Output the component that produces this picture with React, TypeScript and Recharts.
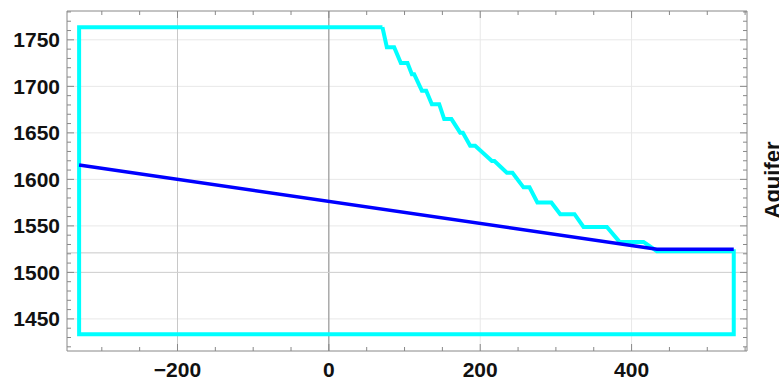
import { LineChart, Line, XAxis, YAxis, CartesianGrid, ReferenceLine } from "recharts";

// aquifer outline (x, elevation), drawn as a closed path
const aquiferX = [70.8, -330, -330, 535, 535, 433.5, 415.8, 384.1, 367.4, 336.5, 324.6, 305.7, 294, 275.5, 265.1, 257.2, 242.6, 235.2, 218.8, 215.4, 193.3, 186.7, 177.1, 173.5, 162, 152.4, 145.8, 136.1, 128.6, 122.9, 112.7, 109.7, 103.9, 95.1, 86.3, 76.6, 70.8];
const aquiferY = [1763.5, 1763.5, 1433.5, 1433.5, 1522.8, 1522.8, 1532.8, 1532.8, 1548.9, 1548.9, 1562.6, 1562.6, 1575.2, 1575.2, 1591.4, 1591.4, 1607.1, 1607.1, 1619.7, 1619.7, 1636.2, 1636.2, 1650.2, 1650.2, 1664.8, 1664.8, 1680.8, 1680.8, 1695.4, 1695.4, 1713, 1713, 1725, 1725, 1742, 1742, 1763.5];

// water table
const waterX = [-330, 433.5, 535];
const waterY = [1615.5, 1525, 1525];

const xLabels = [-200, 0, 200, 400];
const yLabels = [1450, 1500, 1550, 1600, 1650, 1700, 1750];
const xMinor = [-300, -250, -200, -150, -100, -50, 0, 50, 100, 150, 200, 250, 300, 350, 400, 450, 500, 550];
const yMinor: number[] = [];
for (let v = 1420; v <= 1780; v += 10) yMinor.push(v);

const xDomain = [-346, 552.5];
const yDomain = [1415.5, 1781];

const aquifer = aquiferX.map((x, i) => ({ x, y: aquiferY[i] }));
const water = waterX.map((x, i) => ({ x, y: waterY[i] }));

const FRAME = "#888";
const font = {
  fontFamily: "'Liberation Sans', Arial, sans-serif",
  fontWeight: 700,
  fontSize: 21,
  fill: "#111",
};

const fmt = (v: number) => (v < 0 ? "\u2212" + Math.abs(v) : String(v));

function BottomTick({ x, y, payload }: any) {
  const major = xLabels.includes(payload.value);
  return (
    <g>
      <line x1={x} x2={x} y1={y} y2={y - (major ? 7 : 4)} stroke={FRAME} />
      {major && (
        <text x={x} y={y + 26} textAnchor="middle" {...font}>
          {fmt(payload.value)}
        </text>
      )}
    </g>
  );
}

function TopTick({ x, y, payload }: any) {
  const major = xLabels.includes(payload.value);
  return <line x1={x} x2={x} y1={y} y2={y + (major ? 7 : 4)} stroke={FRAME} />;
}

function LeftTick({ x, y, payload }: any) {
  const major = payload.value % 50 === 0;
  return (
    <g>
      <line x1={x} x2={x + (major ? 7 : 4)} y1={y} y2={y} stroke={FRAME} />
      {major && (
        <text x={x - 7} y={y + 7.5} textAnchor="end" {...font}>
          {payload.value}
        </text>
      )}
    </g>
  );
}

function RightTick({ x, y, payload }: any) {
  const major = payload.value % 50 === 0;
  return <line x1={x} x2={x - (major ? 7 : 4)} y1={y} y2={y} stroke={FRAME} />;
}

export default function App() {
  return (
    <div style={{ position: "absolute", left: 0, top: 0, width: 779, height: 381 }}>
      <LineChart width={779} height={381} margin={{ top: 0, right: 0, bottom: 0, left: 0 }}>
        <CartesianGrid
          xAxisId="b"
          yAxisId="l"
          stroke="#e8e8e8"
          horizontalValues={yLabels}
          verticalValues={xLabels}
        />
        <XAxis
          xAxisId="b"
          orientation="bottom"
          type="number"
          dataKey="x"
          domain={xDomain}
          allowDataOverflow
          ticks={xMinor}
          interval={0}
          height={30}
          tickSize={0}
          tickMargin={0}
          tickLine={false}
          axisLine={{ stroke: FRAME }}
          tick={<BottomTick />}
        />
        <XAxis
          xAxisId="t"
          orientation="top"
          type="number"
          dataKey="x"
          domain={xDomain}
          allowDataOverflow
          ticks={xMinor}
          interval={0}
          height={11}
          tickSize={0}
          tickMargin={0}
          tickLine={false}
          axisLine={{ stroke: FRAME }}
          tick={<TopTick />}
        />
        <YAxis
          yAxisId="l"
          orientation="left"
          type="number"
          domain={yDomain}
          allowDataOverflow
          ticks={yMinor}
          interval={0}
          width={67}
          tickSize={0}
          tickMargin={0}
          tickLine={false}
          axisLine={{ stroke: FRAME }}
          tick={<LeftTick />}
        />
        <YAxis
          yAxisId="r"
          orientation="right"
          type="number"
          domain={yDomain}
          allowDataOverflow
          ticks={yMinor}
          interval={0}
          width={32}
          tickSize={0}
          tickMargin={0}
          tickLine={false}
          axisLine={{ stroke: FRAME }}
          tick={<RightTick />}
        />
        <ReferenceLine xAxisId="b" yAxisId="l" x={-200} stroke="#c8c8c8" />
        <ReferenceLine xAxisId="b" yAxisId="l" x={0} stroke="#888" />
        <ReferenceLine xAxisId="b" yAxisId="l" y={1500} stroke="#d0d0d0" />
        <ReferenceLine xAxisId="b" yAxisId="l" y={1521} stroke="#c8c8c8" />
        <Line
          xAxisId="t"
          yAxisId="r"
          data={aquifer}
          dataKey="y"
          type="linear"
          stroke="#00ffff"
          strokeWidth={4}
          dot={false}
          isAnimationActive={false}
        />
        <Line
          xAxisId="b"
          yAxisId="l"
          data={water}
          dataKey="y"
          type="linear"
          stroke="#0000ff"
          strokeWidth={3.5}
          dot={false}
          isAnimationActive={false}
        />
      </LineChart>
      <svg
        width={779}
        height={381}
        style={{ position: "absolute", left: 0, top: 0, pointerEvents: "none" }}
      >
        <text transform="translate(780,180) rotate(-90)" textAnchor="middle" {...font} fontSize={22}>
          Aquifer
        </text>
      </svg>
    </div>
  );
}
